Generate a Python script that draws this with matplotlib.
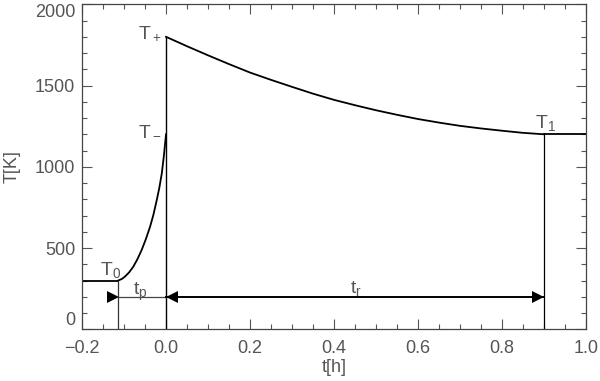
import matplotlib
matplotlib.use("Agg")
import matplotlib.pyplot as plt
from matplotlib.transforms import ScaledTranslation

plt.rcParams['font.family'] = ['Liberation Sans', 'DejaVu Sans']
plt.rcParams['mathtext.fontset'] = 'custom'
plt.rcParams['mathtext.rm'] = 'Liberation Sans'
plt.rcParams['mathtext.it'] = 'Liberation Sans'
plt.rcParams['mathtext.default'] = 'regular'

# ---- data ----
t_pre = [-0.2, -0.114]
T_pre = [300, 300]

t_rise = [-0.114, -0.105, -0.098, -0.088, -0.078, -0.068, -0.058, -0.048,
          -0.038, -0.030, -0.022, -0.016, -0.010, -0.005, 0.0]
T_rise = [300, 310, 324, 350, 385, 432, 488, 555, 631, 705, 796, 870, 960, 1070, 1200]

t_decay = [0.0, 0.05, 0.1, 0.15, 0.2, 0.25, 0.3, 0.35, 0.4, 0.45, 0.5, 0.55,
           0.6, 0.65, 0.7, 0.75, 0.8, 0.85, 0.9]
T_decay = [1800, 1742, 1686, 1632, 1580, 1535, 1492, 1450, 1412, 1379, 1348,
           1320, 1294, 1272, 1252, 1236, 1222, 1209, 1200]

t_post = [0.9, 1.0]
T_post = [1200, 1200]

t_p_start = -0.114
t_jump = 0.0
t_end = 0.9
T0, T_minus, T_plus, T1 = 300, 1200, 1800, 1200
T_arrow = 200

xticks = [-0.2, 0.0, 0.2, 0.4, 0.6, 0.8, 1.0]
xticklabels = ['\u22120.2', '0.0', '0.2', '0.4', '0.6', '0.8', '1.0']
yticks = [0, 500, 1000, 1500, 2000]

# ---- figure ----
fig = plt.figure(figsize=(6.0, 3.81), dpi=100)
ax = fig.add_axes([0.1367, 0.1357, 0.84, 0.853])

txt = '#555555'
lw = 1.3

ax.plot(t_pre, T_pre, color='black', lw=lw)
ax.plot(t_rise, T_rise, color='black', lw=lw)
ax.plot(t_decay, T_decay, color='black', lw=lw)
ax.plot(t_post, T_post, color='black', lw=lw)

# vertical markers
ax.plot([t_p_start, t_p_start], [0, T0], color='#333333', lw=0.9)
ax.plot([t_jump, t_jump], [0, T_plus], color='black', lw=1.0)
ax.plot([t_end, t_end], [0, T1], color='black', lw=0.9)

# arrows
ax.plot([t_p_start, t_jump], [T_arrow, T_arrow], color='#444444', lw=0.9)
ax.plot([t_jump, t_end], [T_arrow, T_arrow], color='black', lw=1.4)

ms = 8
half = ms / 2 / 72
off_l = ScaledTranslation(-half, 0, fig.dpi_scale_trans)
off_r = ScaledTranslation(half, 0, fig.dpi_scale_trans)
ax.plot([t_p_start], [T_arrow], marker='>', ms=ms, color='black', mew=0,
        transform=ax.transData + off_l)
ax.plot([t_jump], [T_arrow], marker='<', ms=ms, color='black', mew=0,
        transform=ax.transData + off_r)
ax.plot([t_end], [T_arrow], marker='>', ms=ms, color='black', mew=0,
        transform=ax.transData + off_l)

fs = 14
ax.text(-0.157, 333, r'$T_0$', fontsize=fs, color=txt, ha='left', va='baseline')
ax.text(-0.067, 1792, r'$T_+$', fontsize=fs, color=txt, ha='left', va='baseline')
ax.text(-0.067, 1195, r'$T_-$', fontsize=fs, color=txt, ha='left', va='baseline')
ax.text(0.879, 1240, r'$T_1$', fontsize=fs, color=txt, ha='left', va='baseline')
ax.text(-0.078, 210, r'$t_p$', fontsize=fs, color=txt, ha='left', va='baseline')
ax.text(0.438, 222, r'$t_r$', fontsize=fs, color=txt, ha='left', va='baseline')

ax.set_xlim(-0.2, 1.0)
ax.set_ylim(0, 2000)
ax.set_xticks(xticks)
ax.set_xticklabels(xticklabels)
ax.set_yticks(yticks)
ax.set_xticks([x / 100 for x in range(-20, 101, 5)], minor=True)
ax.set_yticks(list(range(0, 2001, 100)), minor=True)

ax.tick_params(which='both', direction='in', top=True, right=True,
               colors='#555555', labelcolor=txt, labelsize=13, width=0.8)
ax.tick_params(which='major', length=7)
ax.tick_params(which='minor', length=3.5)
ax.tick_params(axis='x', pad=8)
ax.tick_params(axis='y', pad=5)
for s in ax.spines.values():
    s.set_color('#444444')
    s.set_linewidth(0.9)

ylabs = ax.get_yticklabels()
ylabs[0].set_va('bottom')
ylabs[-1].set_va('top')

ax.set_xlabel('t[h]', fontsize=13, color=txt, labelpad=1)
ax.set_ylabel('T[K]', fontsize=13, color=txt, labelpad=10)

fig.savefig('out.png', dpi=100)
